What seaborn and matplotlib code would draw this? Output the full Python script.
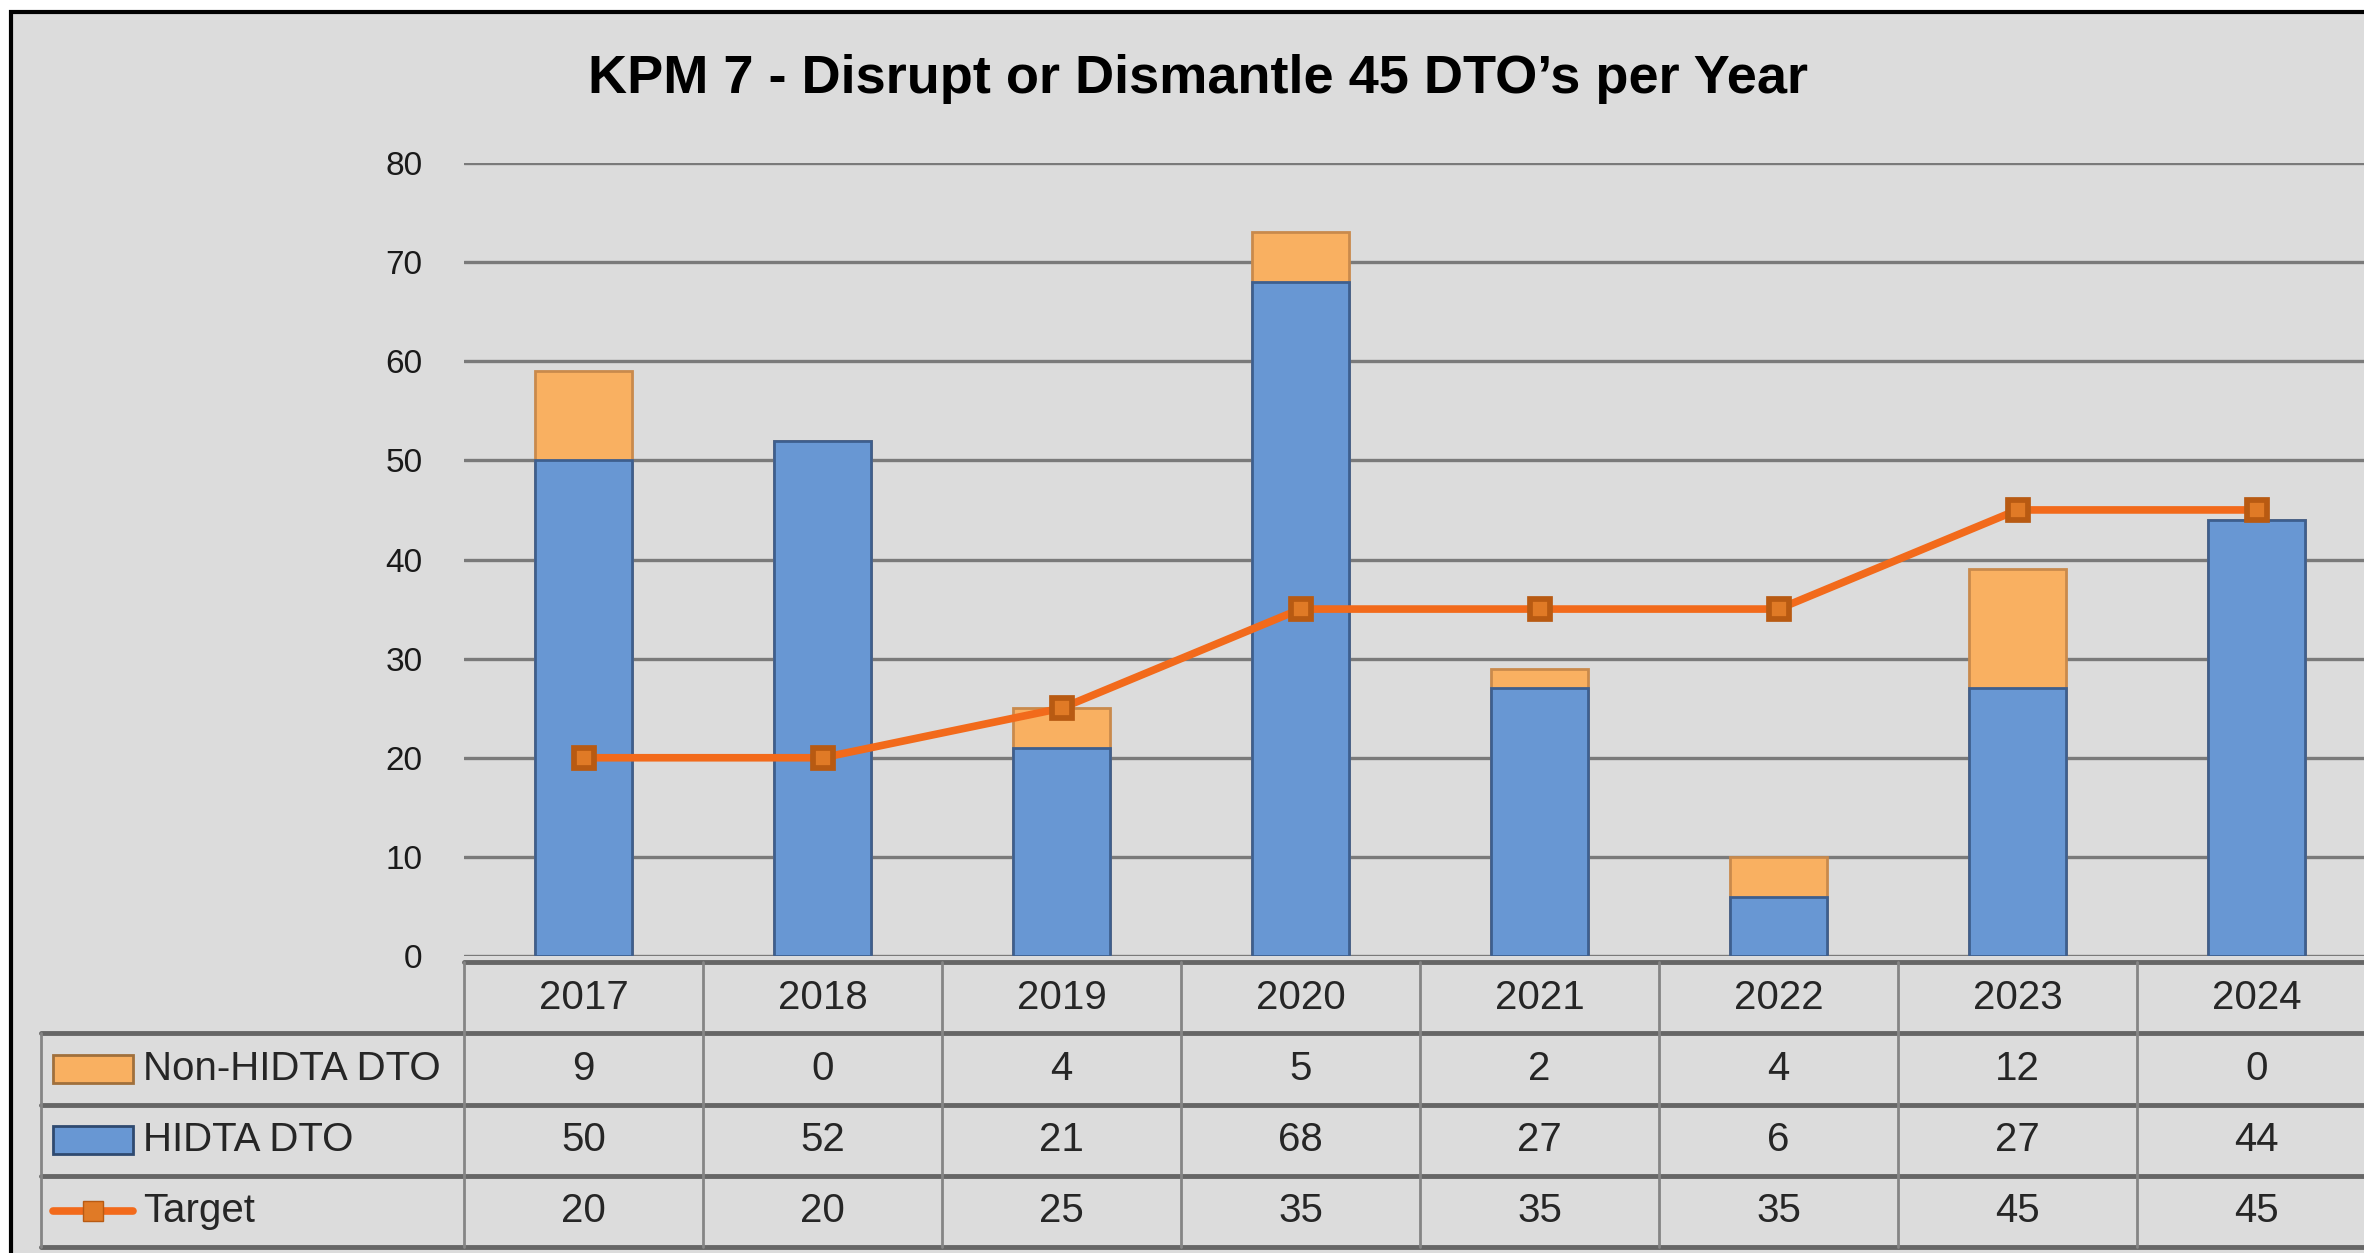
import matplotlib
matplotlib.use("Agg")
import matplotlib.pyplot as plt
from matplotlib.patches import Rectangle
import numpy as np
import seaborn as sns

# data
years = ["2017", "2018", "2019", "2020", "2021", "2022", "2023", "2024"]
non_hidta = [9, 0, 4, 5, 2, 4, 12, 0]
hidta = [50, 52, 21, 68, 27, 6, 27, 44]
target = [20, 20, 25, 35, 35, 35, 45, 45]
row_names = ["Non-HIDTA DTO", "HIDTA DTO", "Target"]
title = "KPM 7 - Disrupt or Dismantle 45 DTO\u2019s per Year"

orange = "#f9b061"
orange_edge = "#c98a4c"
blue = "#6897d3"
blue_edge = "#3e5f8e"
line_col = "#f26a1b"
bg = "#dcdcdc"

sns.set_theme(style="white")
plt.rcParams["font.family"] = ["Liberation Sans", "DejaVu Sans"]

W, H = 2364, 1253
fig = plt.figure(figsize=(W / 100, H / 100), dpi=100)
fig.patch.set_facecolor("white")

# grey chart area with black border (left/top visible)
fig.add_artist(Rectangle((11 / W, -0.01), 1.1, 1 - 12 / H + 0.01,
                         transform=fig.transFigure, facecolor=bg,
                         edgecolor="black", linewidth=3, zorder=-5))

fig.text(1198 / W, 1 - 93 / H, title, ha="center", va="baseline",
         fontsize=39, fontweight="bold", color="black")

# main plot axes
ax_l, ax_r = 464 / W, 2376 / W
ax_b, ax_t = 1 - 956 / H, 1 - 163 / H
ax = fig.add_axes([ax_l, ax_b, ax_r - ax_l, ax_t - ax_b])
ax.set_facecolor("none")

totals = [a + b for a, b in zip(non_hidta, hidta)]
sns.barplot(x=years, y=totals, color=orange, saturation=1, width=0.41,
            edgecolor=orange_edge, linewidth=2, ax=ax)
sns.barplot(x=years, y=hidta, color=blue, saturation=1, width=0.41,
            edgecolor=blue_edge, linewidth=2, ax=ax)
sns.pointplot(x=years, y=target, color=line_col, markers="s", errorbar=None,
              markersize=14, linewidth=5.5, markeredgecolor="#b85a12",
              markerfacecolor="#e07a26", ax=ax)

ax.set_xlim(-0.5, 7.5)
ax.set_ylim(0, 80)
ax.set_yticks(range(0, 81, 10))
ax.yaxis.grid(True, color="#7a7a7a", linewidth=2.4)
ax.xaxis.grid(False)
ax.set_axisbelow(True)
ax.set_xticks([])
ax.set_xlabel("")
ax.set_ylabel("")
ax.tick_params(axis="y", length=0, pad=30, labelsize=24, labelcolor="#1a1a1a")
for s in ax.spines.values():
    s.set_visible(False)

# data table below the plot
tb_l = 41 / W
tb_b, tb_t = 1 - 1247 / H, 1 - 962 / H
tab = fig.add_axes([tb_l, tb_b, ax_r - tb_l, tb_t - tb_b])
tab.set_facecolor("none")
x0 = -0.5 - (464 - 41) / 239
tab.set_xlim(x0, 7.5)
tab.set_ylim(0, 4)
tab.axis("off")

hc = "#666666"
vc = "#858585"
tab.plot([-0.5, 7.5], [4, 4], color=hc, lw=3.5, clip_on=False)
for yv in [3, 2, 1, 0]:
    tab.plot([x0, 7.5], [yv, yv], color=hc, lw=3.5, clip_on=False)
for k in range(9):
    tab.plot([-0.5 + k, -0.5 + k], [0, 4], color=vc, lw=2, clip_on=False)
tab.plot([x0, x0], [0, 3], color=vc, lw=2, clip_on=False)

fs = 29
for i, yr in enumerate(years):
    tab.text(i, 3.5, yr, ha="center", va="center", fontsize=fs)
    tab.text(i, 2.5, str(non_hidta[i]), ha="center", va="center", fontsize=fs)
    tab.text(i, 1.5, str(hidta[i]), ha="center", va="center", fontsize=fs)
    tab.text(i, 0.5, str(target[i]), ha="center", va="center", fontsize=fs)

sw_x0 = (53 - 464) / 239 - 0.5
sw_x1 = (133 - 464) / 239 - 0.5
lab_x = (143 - 464) / 239 - 0.5
tab.add_patch(Rectangle((sw_x0, 2.5 - 0.2), sw_x1 - sw_x0, 0.4,
                        facecolor=orange, edgecolor="#a0703c", lw=2))
tab.add_patch(Rectangle((sw_x0, 1.5 - 0.2), sw_x1 - sw_x0, 0.4,
                        facecolor=blue, edgecolor="#2f4a70", lw=2))
tab.plot([sw_x0, sw_x1], [0.5, 0.5], color=line_col, lw=5.5)
tab.plot([(sw_x0 + sw_x1) / 2], [0.5], marker="s", markersize=14,
         color="#e07a26", markeredgecolor="#b85a12")
for r, name in enumerate(row_names):
    tab.text(lab_x, 2.5 - r, name, ha="left", va="center", fontsize=fs)

fig.savefig("out.png", dpi=100)
